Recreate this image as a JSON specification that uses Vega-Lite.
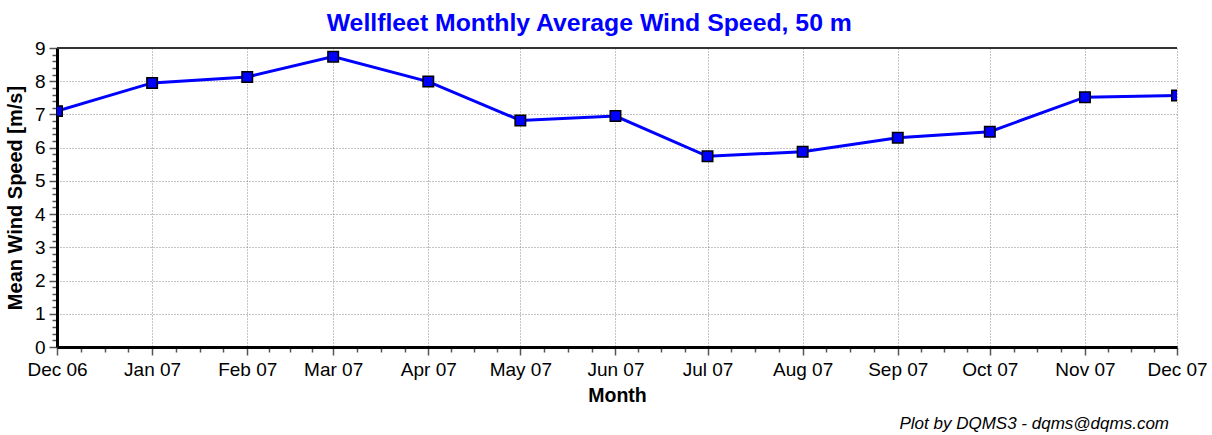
{
  "$schema": "https://vega.github.io/schema/vega-lite/v6.json",
  "background": "white",
  "padding": {"left": 5, "top": 11, "right": 0, "bottom": 0},
  "title": {
    "text": "Wellfleet Monthly Average Wind Speed, 50 m",
    "color": "#0000ff",
    "font": "Liberation Sans",
    "fontSize": 24.8,
    "fontWeight": "bold",
    "anchor": "middle",
    "dx": -17,
    "offset": 3
  },
  "config": {
    "view": {"stroke": null},
    "concat": {"spacing": 0},
    "font": "Liberation Sans"
  },
  "vconcat": [
    {
      "width": 1120,
      "height": 299,
      "title": {
        "text": "Plot by DQMS3 - dqms@dqms.com",
        "orient": "bottom",
        "anchor": "end",
        "frame": "group",
        "font": "Liberation Sans",
        "fontSize": 17,
        "fontStyle": "italic",
        "fontWeight": "normal",
        "color": "#000000",
        "offset": 11,
        "dx": -8
      },
      "data": {
        "values": [
          {"month": "2006-12-01", "speed": 7.10},
          {"month": "2007-01-01", "speed": 7.95},
          {"month": "2007-02-01", "speed": 8.13},
          {"month": "2007-03-01", "speed": 8.74},
          {"month": "2007-04-01", "speed": 7.99},
          {"month": "2007-05-01", "speed": 6.82},
          {"month": "2007-06-01", "speed": 6.95},
          {"month": "2007-07-01", "speed": 5.74},
          {"month": "2007-08-01", "speed": 5.88},
          {"month": "2007-09-01", "speed": 6.30},
          {"month": "2007-10-01", "speed": 6.48},
          {"month": "2007-11-01", "speed": 7.52},
          {"month": "2007-12-01", "speed": 7.57}
        ]
      },
      "layer": [
        {
          "mark": {"type": "line", "color": "#0000ff", "strokeWidth": 3, "clip": true},
          "encoding": {
            "x": {
              "field": "month",
              "type": "temporal",
              "scale": {
                "type": "utc",
                "domain": [
                  {"utc": true, "year": 2006, "month": 12, "date": 1},
                  {"utc": true, "year": 2007, "month": 12, "date": 1}
                ]
              },
              "axis": {
                "title": "Month",
                "titleFont": "Liberation Sans",
                "titleFontSize": 19.5,
                "titleFontWeight": "bold",
                "titleColor": "#000000",
                "titlePadding": 7,
                "labelFont": "Liberation Sans",
                "labelFontSize": 19,
                "labelColor": "#000000",
                "labelPadding": 5,
                "labelOverlap": false,
                "labelFlush": false,
                "tickCount": 200,
                "domainColor": "#000000",
                "domainWidth": 3,
                "tickColor": "#555555",
                "tickWidth": 1.5,
                "tickSize": {"condition": {"test": "utcdate(datum.value) === 1 && utchours(datum.value) === 0", "value": 8}, "value": 5},
                "grid": true,
                "gridColor": "#888888",
                "gridDash": [1, 2],
                "gridWidth": 1,
                "gridOpacity": {"condition": {"test": "utcdate(datum.value) === 1 && utchours(datum.value) === 0", "value": 1}, "value": 0},
                "labelExpr": "utcdate(datum.value) === 1 && utchours(datum.value) === 0 ? utcFormat(datum.value, '%b %y') : ''",
                "values": [
                  {"utc": true, "year": 2006, "month": 12, "date": 1},
                  {"utc": true, "year": 2006, "month": 12, "date": 8, "hours": 18},
                  {"utc": true, "year": 2006, "month": 12, "date": 16, "hours": 12},
                  {"utc": true, "year": 2006, "month": 12, "date": 24, "hours": 6},
                  {"utc": true, "year": 2007, "month": 1, "date": 1},
                  {"utc": true, "year": 2007, "month": 1, "date": 8, "hours": 18},
                  {"utc": true, "year": 2007, "month": 1, "date": 16, "hours": 12},
                  {"utc": true, "year": 2007, "month": 1, "date": 24, "hours": 6},
                  {"utc": true, "year": 2007, "month": 2, "date": 1},
                  {"utc": true, "year": 2007, "month": 2, "date": 8},
                  {"utc": true, "year": 2007, "month": 2, "date": 15},
                  {"utc": true, "year": 2007, "month": 2, "date": 22},
                  {"utc": true, "year": 2007, "month": 3, "date": 1},
                  {"utc": true, "year": 2007, "month": 3, "date": 8, "hours": 18},
                  {"utc": true, "year": 2007, "month": 3, "date": 16, "hours": 12},
                  {"utc": true, "year": 2007, "month": 3, "date": 24, "hours": 6},
                  {"utc": true, "year": 2007, "month": 4, "date": 1},
                  {"utc": true, "year": 2007, "month": 4, "date": 8, "hours": 12},
                  {"utc": true, "year": 2007, "month": 4, "date": 16},
                  {"utc": true, "year": 2007, "month": 4, "date": 23, "hours": 12},
                  {"utc": true, "year": 2007, "month": 5, "date": 1},
                  {"utc": true, "year": 2007, "month": 5, "date": 8, "hours": 18},
                  {"utc": true, "year": 2007, "month": 5, "date": 16, "hours": 12},
                  {"utc": true, "year": 2007, "month": 5, "date": 24, "hours": 6},
                  {"utc": true, "year": 2007, "month": 6, "date": 1},
                  {"utc": true, "year": 2007, "month": 6, "date": 8, "hours": 12},
                  {"utc": true, "year": 2007, "month": 6, "date": 16},
                  {"utc": true, "year": 2007, "month": 6, "date": 23, "hours": 12},
                  {"utc": true, "year": 2007, "month": 7, "date": 1},
                  {"utc": true, "year": 2007, "month": 7, "date": 8, "hours": 18},
                  {"utc": true, "year": 2007, "month": 7, "date": 16, "hours": 12},
                  {"utc": true, "year": 2007, "month": 7, "date": 24, "hours": 6},
                  {"utc": true, "year": 2007, "month": 8, "date": 1},
                  {"utc": true, "year": 2007, "month": 8, "date": 8, "hours": 18},
                  {"utc": true, "year": 2007, "month": 8, "date": 16, "hours": 12},
                  {"utc": true, "year": 2007, "month": 8, "date": 24, "hours": 6},
                  {"utc": true, "year": 2007, "month": 9, "date": 1},
                  {"utc": true, "year": 2007, "month": 9, "date": 8, "hours": 12},
                  {"utc": true, "year": 2007, "month": 9, "date": 16},
                  {"utc": true, "year": 2007, "month": 9, "date": 23, "hours": 12},
                  {"utc": true, "year": 2007, "month": 10, "date": 1},
                  {"utc": true, "year": 2007, "month": 10, "date": 8, "hours": 18},
                  {"utc": true, "year": 2007, "month": 10, "date": 16, "hours": 12},
                  {"utc": true, "year": 2007, "month": 10, "date": 24, "hours": 6},
                  {"utc": true, "year": 2007, "month": 11, "date": 1},
                  {"utc": true, "year": 2007, "month": 11, "date": 8, "hours": 12},
                  {"utc": true, "year": 2007, "month": 11, "date": 16},
                  {"utc": true, "year": 2007, "month": 11, "date": 23, "hours": 12},
                  {"utc": true, "year": 2007, "month": 12, "date": 1}
                ]
              }
            },
            "y": {
              "field": "speed",
              "type": "quantitative",
              "scale": {"domain": [0, 9], "nice": false, "zero": true},
              "axis": {
                "title": "Mean Wind Speed [m/s]",
                "titleFont": "Liberation Sans",
                "titleFontSize": 20,
                "titleFontWeight": "bold",
                "titleColor": "#000000",
                "titlePadding": 9,
                "labelFont": "Liberation Sans",
                "labelFontSize": 19,
                "labelColor": "#000000",
                "labelPadding": 4,
                "labelFlush": false,
                "labelOverlap": false,
                "tickCount": 200,
                "domainColor": "#000000",
                "domainWidth": 3,
                "tickColor": "#555555",
                "tickWidth": 1.5,
                "tickSize": {"condition": {"test": "datum.value % 1 === 0", "value": 8}, "value": 5},
                "grid": true,
                "gridColor": "#888888",
                "gridDash": [1, 2],
                "gridWidth": 1,
                "gridOpacity": {"condition": {"test": "datum.value % 1 === 0 && datum.value > 0 && datum.value < 9", "value": 1}, "value": 0},
                "labelExpr": "datum.value % 1 === 0 ? format(datum.value, 'd') : ''",
                "values": [0, 0.2, 0.4, 0.6, 0.8, 1, 1.2, 1.4, 1.6, 1.8, 2, 2.2, 2.4, 2.6, 2.8, 3, 3.2, 3.4, 3.6, 3.8, 4, 4.2, 4.4, 4.6, 4.8, 5, 5.2, 5.4, 5.6, 5.8, 6, 6.2, 6.4, 6.6, 6.8, 7, 7.2, 7.4, 7.6, 7.8, 8, 8.2, 8.4, 8.6, 8.8, 9]
              }
            }
          }
        },
        {
          "mark": {"type": "point", "shape": "square", "size": 110, "filled": true, "fill": "#0000ff", "stroke": "#000000", "strokeWidth": 1.5, "opacity": 1, "clip": true},
          "encoding": {
            "x": {"field": "month", "type": "temporal"},
            "y": {"field": "speed", "type": "quantitative"}
          }
        },
        {
          "data": {"values": [{"edge": "top"}]},
          "mark": {"type": "rule", "color": "#333333", "strokeWidth": 2},
          "encoding": {
            "y": {"datum": 9, "type": "quantitative"}
          }
        }
      ]
    }
  ]
}
